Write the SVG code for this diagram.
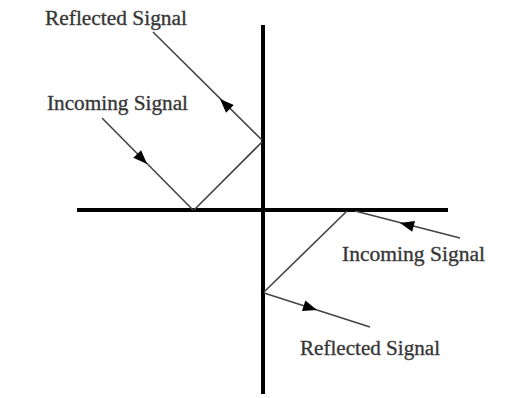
<svg xmlns="http://www.w3.org/2000/svg" xmlns:xlink="http://www.w3.org/1999/xlink" width="512" height="398" viewBox="0 0 512 398">
<style>
.axis{stroke:#000;stroke-width:4;fill:none}
.ray{stroke:#444;stroke-width:1.6;fill:none}
.lbl{font-family:"Liberation Serif","Times New Roman",serif;font-size:20px;fill:#333;stroke:#444;stroke-width:0.35}
.head{fill:#000}
</style>
<defs>
<path id="ah" d="M0,0 L-14,-5.5 L-14,5.5 Z"/>
</defs>
<rect width="512" height="398" fill="#fff"/>
<g id="axes">
<line class="axis" x1="263" y1="25" x2="263" y2="394"/>
<line class="axis" x1="77" y1="210" x2="448" y2="210"/>
</g>
<g id="connectors">
<line class="ray" x1="102" y1="118" x2="193" y2="210"/>
<line class="ray" x1="194" y1="210" x2="262" y2="142"/>
<line class="ray" x1="262" y1="140" x2="153" y2="32"/>
<line class="ray" x1="460" y1="238" x2="355" y2="211"/>
<line class="ray" x1="347" y1="211" x2="264" y2="292"/>
<line class="ray" x1="264" y1="293" x2="370" y2="327"/>
<use class="head" xlink:href="#ah" transform="translate(147,164) rotate(45.6)"/>
<use class="head" xlink:href="#ah" transform="translate(220,99) rotate(-135)"/>
<use class="head" xlink:href="#ah" transform="translate(400,223) rotate(-165.8)"/>
<use class="head" xlink:href="#ah" transform="translate(317,310) rotate(17.9)"/>
</g>
<g id="label-reflected-top"><text class="lbl" x="45" y="25" textLength="142" lengthAdjust="spacingAndGlyphs">Reflected Signal</text></g>
<g id="label-incoming-top"><text class="lbl" x="47" y="110" textLength="141" lengthAdjust="spacingAndGlyphs">Incoming Signal</text></g>
<g id="label-incoming-bottom"><text class="lbl" x="342" y="261" textLength="143" lengthAdjust="spacingAndGlyphs">Incoming Signal</text></g>
<g id="label-reflected-bottom"><text class="lbl" x="300" y="355" textLength="140" lengthAdjust="spacingAndGlyphs">Reflected Signal</text></g>
</svg>
